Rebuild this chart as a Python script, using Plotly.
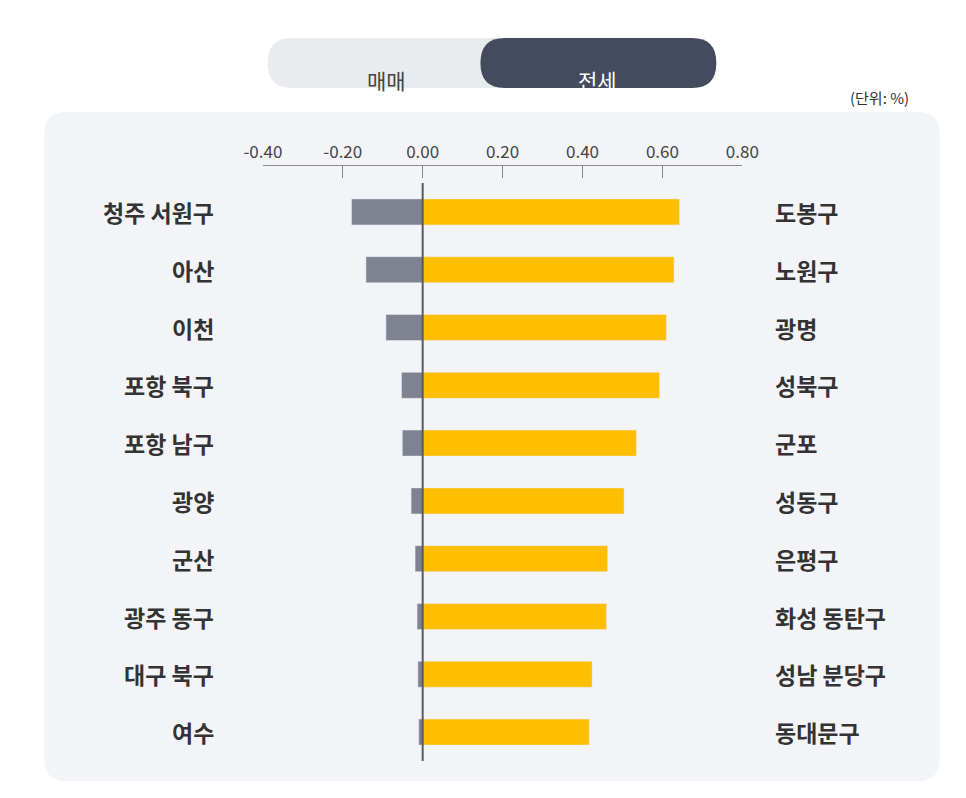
import plotly.graph_objects as go

W, H = 966, 798
left_labels = ["청주 서원구","아산","이천","포항 북구","포항 남구","광양","군산","광주 동구","대구 북구","여수"]
sale_vals = [-0.178,-0.142,-0.092,-0.053,-0.051,-0.029,-0.019,-0.014,-0.012,-0.010]
right_labels = ["도봉구","노원구","광명","성북구","군포","성동구","은평구","화성 동탄구","성남 분당구","동대문구"]
jeonse_vals = [0.643,0.629,0.610,0.593,0.535,0.504,0.463,0.460,0.424,0.417]
tick_vals = [-0.4,-0.2,0,0.2,0.4,0.6,0.8]
tick_text = ["-0.40","-0.20","0.00","0.20","0.40","0.60","0.80"]

FONT = "Noto Sans CJK KR"
px = lambda x: x / W
py = lambda y: 1 - y / H

def rrect(x0, y0, x1, y1, r):
    X0, X1 = px(x0), px(x1)
    Y0, Y1 = py(y0), py(y1)
    rx, ry = r / W, r / H
    return (f"M {X0+rx},{Y0} L {X1-rx},{Y0} Q {X1},{Y0} {X1},{Y0-ry} "
            f"L {X1},{Y1+ry} Q {X1},{Y1} {X1-rx},{Y1} L {X0+rx},{Y1} "
            f"Q {X0},{Y1} {X0},{Y1+ry} L {X0},{Y0-ry} Q {X0},{Y0} {X0+rx},{Y0} Z")

ys = list(range(len(left_labels)))
fig = go.Figure()
fig.add_trace(go.Bar(y=ys, x=sale_vals, orientation="h", marker_color="#7f8291", width=0.45))
fig.add_trace(go.Bar(y=ys, x=jeonse_vals, orientation="h", marker_color="#ffbe00", width=0.45))

shapes = [
    dict(type="path", path=rrect(18, 104, 948, 773, 22), xref="paper", yref="paper",
         fillcolor="#f3f4f7", line_width=0, layer="below"),
    dict(type="path", path=rrect(250, 30, 716, 80, 25), xref="paper", yref="paper",
         fillcolor="#e9ebee", line_width=0, layer="below"),
    dict(type="path", path=rrect(471, 30, 716, 80, 25), xref="paper", yref="paper",
         fillcolor="#454b5e", line_width=0, layer="below"),
    dict(type="line", x0=0, x1=0, y0=-0.5, y1=9.5, xref="x", yref="y",
         line=dict(color="#555a66", width=2)),
]
ann = [
    dict(x=px(373), y=py(55), xref="paper", yref="paper", text="매매", showarrow=False,
         font=dict(size=21, color="#444", family=FONT)),
    dict(x=px(593), y=py(55), xref="paper", yref="paper", text="전세", showarrow=False,
         font=dict(size=21, color="white", family=FONT)),
    dict(x=px(918), y=py(77), xref="paper", yref="paper", text="(단위: %)", showarrow=False,
         xanchor="right", font=dict(size=15, color="#333", family=FONT)),
]
for i, (l, r) in enumerate(zip(left_labels, right_labels)):
    ann.append(dict(x=px(196), y=i, xref="paper", yref="y", text=f"<b>{l}</b>", showarrow=False,
                    xanchor="right", font=dict(size=23, color="#333", family=FONT)))
    ann.append(dict(x=px(775), y=i, xref="paper", yref="y", text=f"<b>{r}</b>", showarrow=False,
                    xanchor="left", font=dict(size=23, color="#333", family=FONT)))

fig.update_layout(
    width=W, height=H, margin=dict(l=0, r=0, t=0, b=0),
    paper_bgcolor="white", plot_bgcolor="rgba(0,0,0,0)",
    barmode="overlay", showlegend=False, shapes=shapes, annotations=ann,
    xaxis=dict(range=[-0.4, 0.8], domain=[px(245), px(743)], side="top", anchor="free",
               position=py(157), tickvals=tick_vals, ticktext=tick_text, ticks="inside",
               ticklen=12, tickcolor="#888", showline=True, linecolor="#888", showgrid=False,
               zeroline=False, tickfont=dict(size=17, color="#444", family=FONT)),
    yaxis=dict(range=[9.5, -0.5], domain=[py(753), py(175)], showticklabels=False,
               showgrid=False, zeroline=False, visible=False),
)
fig.write_html("out.html")
